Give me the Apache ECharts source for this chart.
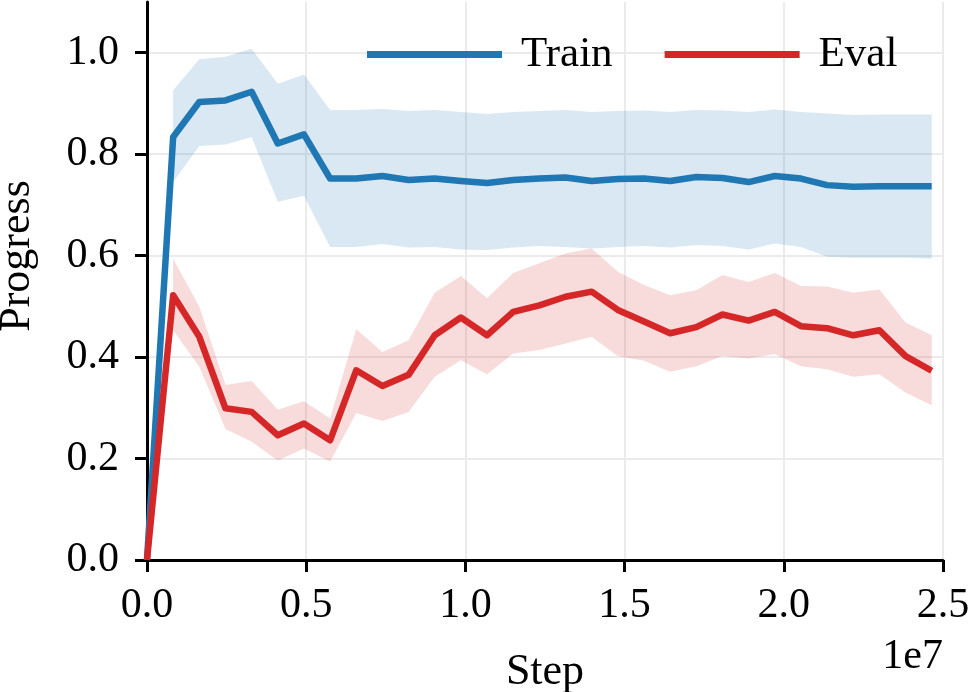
<!DOCTYPE html>
<html>
<head>
<meta charset="utf-8">
<script src="https://cdn.jsdelivr.net/npm/echarts@6/dist/echarts.min.js"></script>
<style>html,body{margin:0;padding:0;background:#fff}#c{width:969px;height:692px}</style>
</head>
<body>
<div id="c"></div>
<script>
const steps = [0, 821500, 1643000, 2464500, 3286000, 4107500, 4929000, 5750500, 6572000, 7393500, 8215000, 9036500, 9858000, 10679500, 11501000, 12322500, 13144000, 13965500, 14787000, 15608500, 16430000, 17251500, 18073000, 18894500, 19716000, 20537500, 21359000, 22180500, 23002000, 23823500, 24645000];
const trainMean = [0, 0.834, 0.903, 0.906, 0.923, 0.821, 0.839, 0.752, 0.752, 0.757, 0.749, 0.752, 0.747, 0.743, 0.749, 0.752, 0.754, 0.747, 0.751, 0.752, 0.747, 0.755, 0.753, 0.745, 0.757, 0.752, 0.739, 0.736, 0.737, 0.737, 0.737];
const trainUpper = [null, 0.926, 0.987, 0.992, 1.008, 0.939, 0.957, 0.887, 0.887, 0.889, 0.885, 0.887, 0.883, 0.879, 0.883, 0.885, 0.887, 0.883, 0.885, 0.886, 0.883, 0.887, 0.886, 0.883, 0.888, 0.883, 0.880, 0.877, 0.878, 0.878, 0.878];
const trainLower = [null, 0.745, 0.816, 0.819, 0.834, 0.706, 0.718, 0.617, 0.617, 0.623, 0.616, 0.617, 0.612, 0.611, 0.616, 0.619, 0.617, 0.614, 0.617, 0.619, 0.616, 0.621, 0.619, 0.612, 0.624, 0.617, 0.598, 0.596, 0.596, 0.596, 0.594];
const evalMean = [0, 0.522, 0.440, 0.299, 0.292, 0.246, 0.269, 0.236, 0.374, 0.343, 0.365, 0.443, 0.478, 0.443, 0.489, 0.502, 0.519, 0.529, 0.493, 0.470, 0.447, 0.459, 0.484, 0.472, 0.489, 0.461, 0.457, 0.443, 0.453, 0.402, 0.373];
const evalUpper = [null, 0.594, 0.499, 0.345, 0.353, 0.296, 0.313, 0.279, 0.455, 0.410, 0.433, 0.527, 0.560, 0.516, 0.566, 0.585, 0.604, 0.614, 0.568, 0.542, 0.522, 0.532, 0.562, 0.548, 0.566, 0.540, 0.539, 0.527, 0.533, 0.468, 0.443];
const evalLower = [null, 0.453, 0.381, 0.258, 0.233, 0.196, 0.220, 0.194, 0.290, 0.274, 0.292, 0.361, 0.394, 0.366, 0.407, 0.414, 0.427, 0.440, 0.402, 0.393, 0.371, 0.382, 0.402, 0.397, 0.406, 0.382, 0.376, 0.361, 0.366, 0.330, 0.305];
const yTicks = [0, 0.2, 0.4, 0.6, 0.8, 1.0];

const FONT = 'Liberation Serif';
const BLUE = '#1f77b4', RED = '#d62728';

function pairs(ys) {
  const out = [];
  steps.forEach((s, i) => { if (ys[i] !== null) out.push([s, ys[i]]); });
  return out;
}
function bandRows(up, lo) {
  const out = [];
  steps.forEach((s, i) => { if (up[i] !== null) out.push([s, lo[i], up[i]]); });
  return out;
}
function band(name, up, lo, color, z) {
  const rows = bandRows(up, lo);
  return {
    name: name, type: 'custom', data: rows, z: z, silent: true,
    encode: { x: 0, y: [1, 2] },
    clip: true,
    renderItem: function (params, api) {
      if (params.dataIndex !== 0) return null;
      const top = rows.map(r => api.coord([r[0], r[2]]));
      const bot = rows.map(r => api.coord([r[0], r[1]])).reverse();
      return { type: 'polygon', shape: { points: top.concat(bot) }, style: { fill: color }, silent: true };
    }
  };
}

const chart = echarts.init(document.getElementById('c'), null, { renderer: 'canvas' });
chart.setOption({
  animation: false,
  backgroundColor: '#fff',
  grid: { left: 147, right: 26, top: 2, bottom: 132, containLabel: false, outerBoundsMode: 'none' },
  legend: {
    data: ['Train', 'Eval'],
    left: 362, top: 28,
    icon: 'rect', itemWidth: 135, itemHeight: 7, itemGap: 52,
    textStyle: { fontFamily: FONT, fontSize: 43, color: '#000', padding: [0, 0, 0, 14] }
  },
  xAxis: {
    type: 'value', min: 0, max: 25000000, interval: 5000000,
    name: 'Step', nameLocation: 'middle', nameGap: 90,
    nameTextStyle: { fontFamily: FONT, fontSize: 44, color: '#000' },
    axisLine: { show: true, onZero: false, lineStyle: { color: '#000', width: 3 } },
    axisTick: { show: true, length: 12, lineStyle: { color: '#000', width: 3 } },
    axisLabel: { margin: 25, fontFamily: FONT, fontSize: 42, color: '#000',
      formatter: v => (v / 1e7).toFixed(1) },
    splitLine: { show: true, lineStyle: { color: '#ebebeb', width: 2 } }
  },
  yAxis: {
    type: 'value', min: 0, max: 1.1,
    name: 'Progress', nameLocation: 'middle', nameGap: 108,
    nameTextStyle: { fontFamily: FONT, fontSize: 44, color: '#000', padding: [0, 0, 0, 50] },
    axisLine: { show: true, onZero: false, lineStyle: { color: '#000', width: 3 } },
    axisTick: { show: true, length: 12, customValues: yTicks, lineStyle: { color: '#000', width: 3 } },
    axisLabel: { margin: 28, fontFamily: FONT, fontSize: 42, color: '#000', customValues: yTicks,
      formatter: v => v.toFixed(1) },
    splitLine: { show: true, lineStyle: { color: '#ebebeb', width: 2 } }
  },
  graphic: [{
    type: 'text', right: 26, top: 636,
    style: { text: '1e7', fontFamily: FONT, fontSize: 42, fill: '#000' }
  }],
  series: [
    band('trainBand', trainUpper, trainLower, 'rgba(31,119,180,0.17)', 1),
    { name: 'Train', type: 'line', data: pairs(trainMean), showSymbol: false, z: 3,
      itemStyle: { color: BLUE }, lineStyle: { color: BLUE, width: 6.5, join: 'round', cap: 'butt' } },
    band('evalBand', evalUpper, evalLower, 'rgba(214,39,40,0.17)', 4),
    { name: 'Eval', type: 'line', data: pairs(evalMean), showSymbol: false, z: 5,
      itemStyle: { color: RED }, lineStyle: { color: RED, width: 6.5, join: 'round', cap: 'butt' } }
  ]
});
</script>
</body>
</html>
